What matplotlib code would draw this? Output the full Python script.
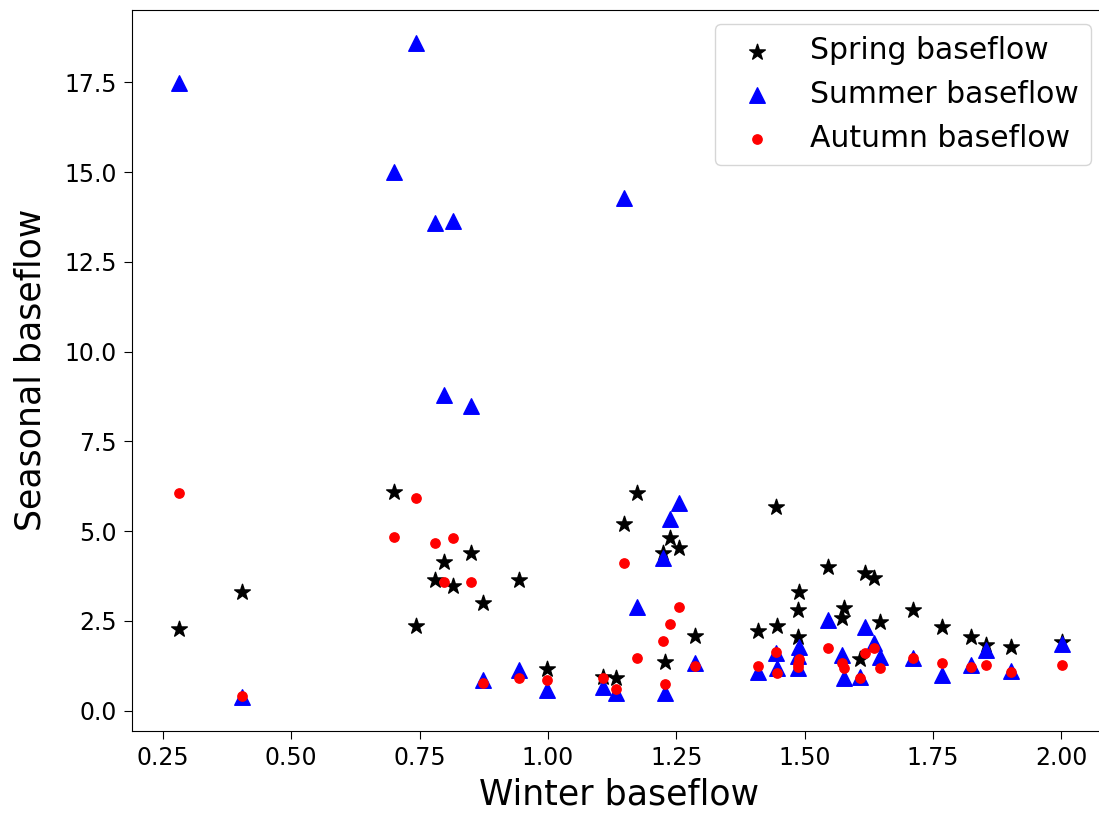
import matplotlib
matplotlib.use("Agg")
import matplotlib.pyplot as plt

# winter baseflow (x) and the three seasonal baseflows (y)
winter = [0.282, 0.405, 0.700, 0.744, 0.781, 0.797, 0.816, 0.851, 0.873, 0.943,
          0.999, 1.107, 1.132, 1.148, 1.174, 1.224, 1.228, 1.237, 1.255, 1.286,
          1.410, 1.445, 1.446, 1.487, 1.488, 1.490, 1.545, 1.573, 1.576, 1.607,
          1.617, 1.635, 1.646, 1.711, 1.768, 1.824, 1.854, 1.902, 2.001]
spring = [2.26, 3.29, 6.10, 2.36, 3.65, 4.15, 3.47, 4.40, 2.99, 3.64,
          1.17, 0.94, 0.90, 5.21, 6.07, 4.38, 1.34, 4.81, 4.54, 2.08,
          2.21, 5.67, 2.35, 2.80, 2.06, 3.31, 3.99, 2.57, 2.87, 1.43,
          3.82, 3.68, 2.47, 2.80, 2.33, 2.04, 1.82, 1.76, 1.92]
summer = [17.48, 0.37, 15.01, 18.59, 13.57, 8.79, 13.64, 8.48, 0.85, 1.13,
          0.57, 0.66, 0.48, 14.27, 2.89, 4.24, 0.48, 5.33, 5.79, 1.31,
          1.08, 1.61, 1.18, 1.52, 1.18, 1.78, 2.52, 1.55, 0.90, 0.94,
          2.32, 1.87, 1.50, 1.45, 0.99, 1.27, 1.69, 1.11, 1.85]
autumn = [6.07, 0.41, 4.84, 5.91, 4.67, 3.59, 4.81, 3.59, 0.78, 0.90,
          0.85, 0.90, 0.59, 4.10, 1.47, 1.94, 0.74, 2.41, 2.89, 1.24,
          1.25, 1.64, 1.04, 1.22, 1.30, 1.43, 1.73, 1.33, 1.18, 0.90,
          1.59, 1.73, 1.18, 1.47, 1.33, 1.22, 1.27, 1.08, 1.27]

fig = plt.figure(figsize=(10.99, 8.14), dpi=100)
# the original image is cropped on the right, so the axes run past the figure edge
ax = fig.add_axes([0.1201, 0.102, 0.8863, 0.8863])

ax.scatter(winter, spring, marker="*", s=140, color="black", label="Spring baseflow")
ax.scatter(winter, summer, marker="^", s=125, color="blue", label="Summer baseflow")
ax.scatter(winter, autumn, marker="o", s=45, color="red", label="Autumn baseflow")

ax.set_xlim(0.19, 2.087)
ax.set_ylim(-0.57, 19.53)
ax.set_xticks([0.25, 0.50, 0.75, 1.00, 1.25, 1.50, 1.75, 2.00])
ax.set_yticks([0.0, 2.5, 5.0, 7.5, 10.0, 12.5, 15.0, 17.5])
ax.tick_params(labelsize=17, length=6, pad=5)

ax.set_xlabel("Winter baseflow", fontsize=25, labelpad=5)
ax.set_ylabel("Seasonal baseflow", fontsize=25, labelpad=12)

ax.legend(loc="upper right", fontsize=21.5)

fig.savefig("out.png", dpi=100)
